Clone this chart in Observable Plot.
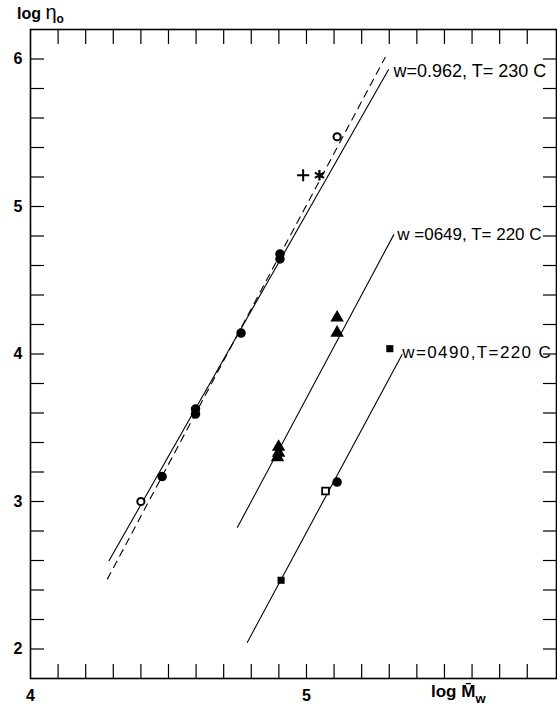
<!DOCTYPE html>
<html><head><meta charset="utf-8">
<script src="https://cdn.jsdelivr.net/npm/d3@7"></script>
<script src="https://cdn.jsdelivr.net/npm/@observablehq/plot@0.6"></script>
<style>body{margin:0;background:#fff}#chart{width:557px;height:714px}</style>
</head><body><div id="chart"></div>
<script>
// ---- data ----
const xDomain = [4, 5.906];
const yDomain = [1.8, 6.2];
const xTicks = [4.1,4.2,4.3,4.4,4.5,4.6,4.7,4.8,4.9,5.0,5.1,5.2,5.3,5.4,5.5,5.6,5.7,5.8];
const yTicks = [2.0,2.2,2.4,2.6,2.8,3.0,3.2,3.4,3.6,3.8,4.0,4.2,4.4,4.6,4.8,5.0,5.2,5.4,5.6,5.8,6.0];
const xTickLabels = [4, 5];
const yTickLabels = [2, 3, 4, 5, 6];

// points: x = log Mw, y = log eta0, marker kind
const pointX =   [4.400, 5.111, 4.477, 4.598, 4.598, 4.763, 4.904, 4.904, 5.111, 4.988, 5.047, 4.899, 4.899, 4.895, 5.111, 5.111, 4.908, 5.302, 5.069];
const pointY =   [3.000, 5.473, 3.169, 3.627, 3.593, 4.142, 4.678, 4.644, 3.132, 5.212, 5.212, 3.370, 3.330, 3.300, 4.246, 4.144, 2.466, 4.036, 3.071];
const pointKind = ["ring","ring","disc","disc","disc","disc","disc","disc","disc","plus","asterisk","tri","tri","tri","tri","tri","sq","sq","opensq"];

// fitted lines (end points)
const lineName = ["w0962","w0962dash","w0649","w0490"];
const lineX1 = [4.284, 4.278, 4.749, 4.785];
const lineY1 = [2.597, 2.472, 2.822, 2.043];
const lineX2 = [5.298, 5.286, 5.317, 5.347];
const lineY2 = [5.930, 6.014, 4.811, 3.998];

// curve labels
const labelText = ["w=0.962, T= 230 C", "w =0649, T= 220 C", "w=0490,T=220 C"];
const labelX = [5.315, 5.329, 5.347];
const labelY = [5.919, 4.811, 4.009];

// ---- build tables ----
const points = pointX.map((x, i) => ({x, y: pointY[i], kind: pointKind[i]}));
const lines = lineName.map((n, i) => ({n, x1: lineX1[i], y1: lineY1[i], x2: lineX2[i], y2: lineY2[i]}));
const labels = labelText.map((t, i) => ({t, x: labelX[i], y: labelY[i], i}));
const of = k => points.filter(d => d.kind === k);

const font = "'Liberation Sans', Arial, sans-serif";
const tick = 14;

const chart = Plot.plot({
  width: 557, height: 714,
  marginLeft: 30, marginTop: 29, marginBottom: 36, marginRight: 1,
  x: {domain: xDomain, label: null},
  y: {domain: yDomain, label: null},
  style: {fontFamily: font, background: "white", color: "black"},
  marks: [
    Plot.frame({stroke: "black", strokeWidth: 1.6}),
    Plot.axisX({anchor: "bottom", ticks: xTicks, tickSize: -tick, tickFormat: () => "", label: null, strokeWidth: 1.2}),
    Plot.axisX({anchor: "top", ticks: xTicks, tickSize: -tick, tickFormat: () => "", label: null, strokeWidth: 1.2}),
    Plot.axisY({anchor: "left", ticks: yTicks, tickSize: -tick, tickFormat: () => "", label: null, strokeWidth: 1.2}),
    Plot.axisY({anchor: "right", ticks: yTicks, tickSize: -tick, tickFormat: () => "", label: null, strokeWidth: 1.2}),
    Plot.axisX({anchor: "bottom", ticks: xTickLabels, tickFormat: d3.format("d"), tickSize: 0, tickPadding: 11, label: null, fontSize: 16, fontWeight: "bold"}),
    Plot.axisY({anchor: "left", ticks: yTickLabels, tickFormat: d3.format("d"), tickSize: 0, tickPadding: 8, label: null, fontSize: 16, fontWeight: "bold"}),
    Plot.link(lines.filter(d => d.n !== "w0962dash"), {x1: "x1", y1: "y1", x2: "x2", y2: "y2", stroke: "black", strokeWidth: 1.1}),
    Plot.link(lines.filter(d => d.n === "w0962dash"), {x1: "x1", y1: "y1", x2: "x2", y2: "y2", stroke: "black", strokeWidth: 1.1, strokeDasharray: "8,5"}),
    Plot.dot(of("ring"), {x: "x", y: "y", r: 3.6, stroke: "black", strokeWidth: 2, fill: "white"}),
    Plot.dot(of("disc"), {x: "x", y: "y", r: 4, fill: "black", stroke: "black"}),
    Plot.dot(of("plus"), {x: "x", y: "y", r: 4, symbol: "plus", stroke: "black", strokeWidth: 2}),
    Plot.dot(of("asterisk"), {x: "x", y: "y", r: 5, symbol: "asterisk", stroke: "black", strokeWidth: 2.2}),
    Plot.dot(of("tri"), {x: "x", y: "y", r: 5, symbol: "triangle", fill: "black"}),
    Plot.dot(of("sq"), {x: "x", y: "y", r: 4, symbol: "square", fill: "black"}),
    Plot.dot(of("opensq"), {x: "x", y: "y", r: 3.8, symbol: "square", stroke: "black", strokeWidth: 1.8, fill: "white"}),
    Plot.text(labels, {x: "x", y: "y", text: "t", textAnchor: "start", lineAnchor: "middle", fontSize: d => d.i === 0 ? 18 : 17, fill: "black", className: "curve-label"})
  ]
});
document.getElementById("chart").appendChild(chart);

const svg = d3.select(chart);
// widen spacing of the third curve label as in the reference
svg.selectAll(".curve-label text").filter((d, i) => i === 2).attr("letter-spacing", 1.4);

// axis titles with sub/over marks
const yt = svg.append("text").attr("x", 17).attr("y", 19).attr("text-anchor", "start").attr("font-family", font).attr("font-size", 16).attr("font-weight", "bold").attr("fill", "black");
yt.append("tspan").text("log ");
yt.append("tspan").attr("font-size", 20).attr("font-weight", "normal").text("η");
yt.append("tspan").attr("font-size", 12).attr("dy", 4).text("o");
const xt = svg.append("text").attr("x", 431).attr("y", 697).attr("text-anchor", "start").attr("font-family", font).attr("font-size", 17).attr("font-weight", "bold").attr("fill", "black");
xt.append("tspan").text("log ");
xt.append("tspan").text("M\u0304");
xt.append("tspan").attr("font-size", 13).attr("dy", 6).text("w");
</script>
</body></html>
